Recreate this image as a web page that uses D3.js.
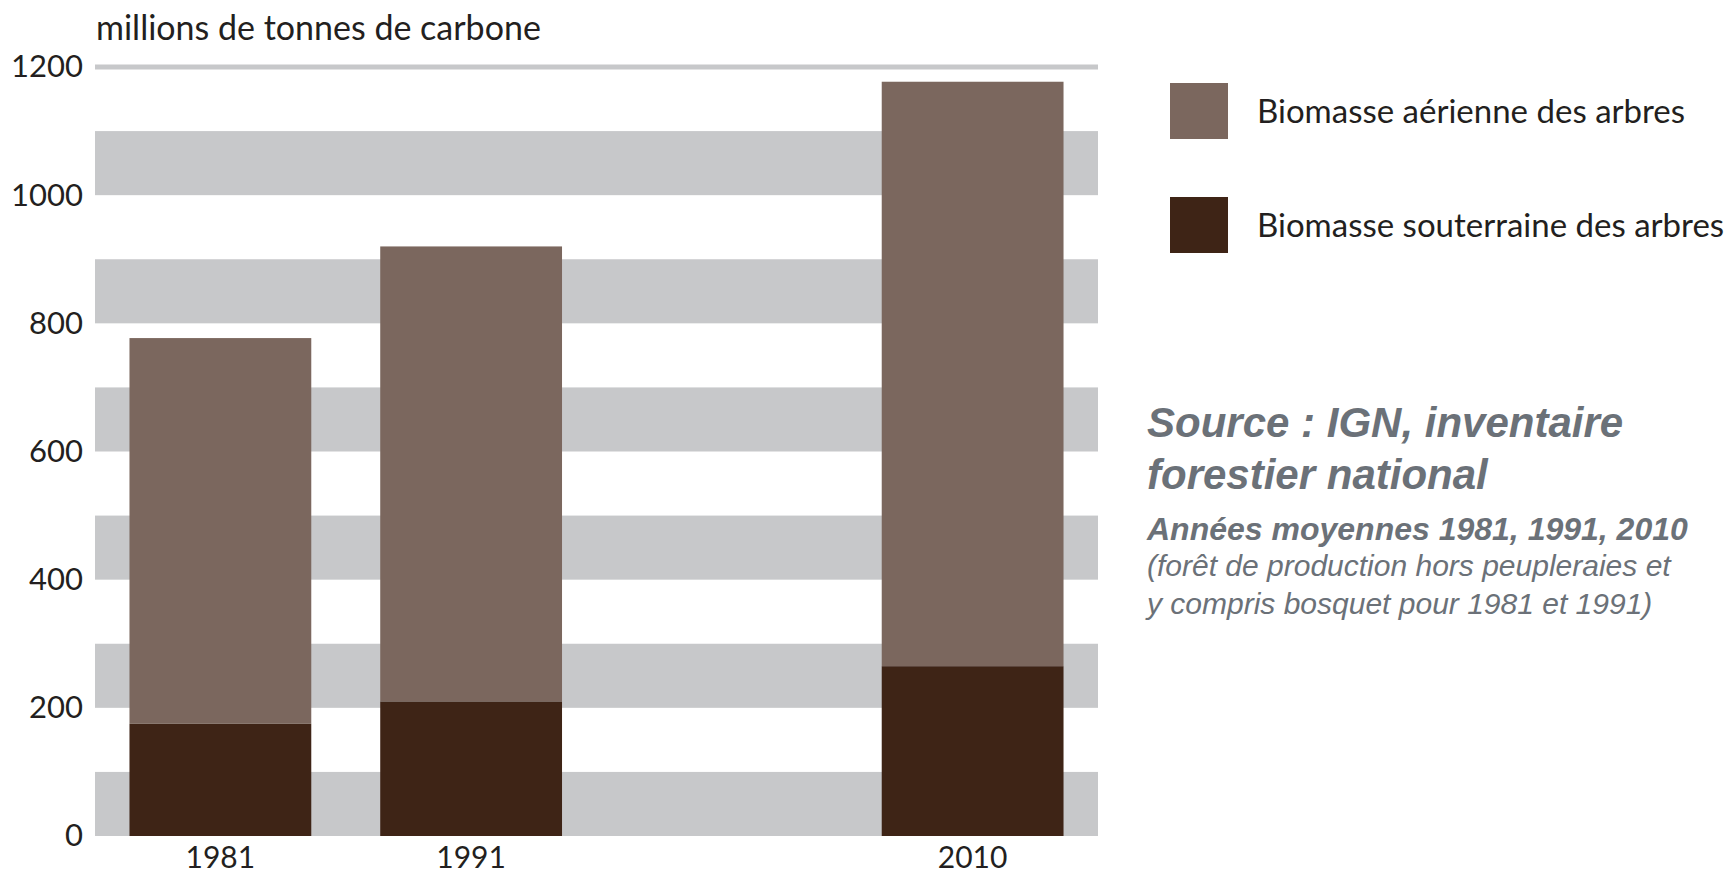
<!DOCTYPE html>
<html>
<head>
<meta charset="utf-8">
<script src="https://cdn.jsdelivr.net/npm/d3@7"></script>
<style>
	body { margin: 0; background: #fff; }
	svg { display: block; }
</style>
</head>
<body>
<script>
// data (millions de tonnes de carbone)
const years = ['1981', '1991', '2010'];
const slots = [0, 1, 3]; // 2010 sits one empty slot further right
const souterraine = [175, 210, 265];
const aerienne = [602, 710, 912];
const yTicks = [0, 200, 400, 600, 800, 1000, 1200];
const seriesNames = ['Biomasse aérienne des arbres', 'Biomasse souterraine des arbres'];
const sourceLines = [
	'Source : IGN, inventaire',
	'forestier national',
	'Années moyennes 1981, 1991, 2010',
	'(forêt de production hors peupleraies et',
	'y compris bosquet pour 1981 et 1991)'
];

document.addEventListener('DOMContentLoaded', () => {
	let width = 1731;
	let height = 875;
	let left = 95, right = 1098, top = 67, bottom = 836;

	let colAerienne = '#7b675e';
	let colSouterraine = '#3e2416';
	let colBand = '#c7c8ca';
	let colText = '#231f20';
	let labelFont = 'Lato, "Open Sans", sans-serif';

	let svg = d3.select('body').append('svg')
		.attr('width', width)
		.attr('height', height);

	let y = d3.scaleLinear().domain([0, 1200]).range([bottom, top]);
	let x = d3.scaleBand()
		.domain(d3.range(4))
		.range([left, right])
		.paddingInner(0.275)
		.paddingOuter(0.1375);

	// alternating grey bands
	svg.append('g').selectAll('rect')
		.data(d3.range(0, 1200, 200))
		.enter().append('rect')
		.attr('x', left)
		.attr('width', right - left)
		.attr('y', d => y(d + 100))
		.attr('height', d => y(d) - y(d + 100))
		.style('fill', colBand);

	svg.append('line')
		.attr('x1', left).attr('x2', right)
		.attr('y1', y(1200)).attr('y2', y(1200))
		.style('stroke', colBand)
		.style('stroke-width', 5);

	let rows = years.map((yr, i) => ({
		year: yr,
		slot: slots[i],
		sout: souterraine[i],
		aer: aerienne[i]
	}));

	let bars = svg.append('g');
	bars.selectAll('rect.sout')
		.data(rows)
		.enter().append('rect')
		.attr('class', 'sout')
		.attr('x', d => x(d.slot))
		.attr('width', x.bandwidth())
		.attr('y', d => y(d.sout))
		.attr('height', d => y(0) - y(d.sout))
		.style('fill', colSouterraine);
	bars.selectAll('rect.aer')
		.data(rows)
		.enter().append('rect')
		.attr('class', 'aer')
		.attr('x', d => x(d.slot))
		.attr('width', x.bandwidth())
		.attr('y', d => y(d.sout + d.aer))
		.attr('height', d => y(d.sout) - y(d.sout + d.aer))
		.style('fill', colAerienne);

	// y axis labels only
	let yAxis = svg.append('g')
		.attr('transform', `translate(${left - 12},0)`)
		.call(d3.axisLeft(y).tickValues(yTicks).tickFormat(d3.format('d')).tickSize(0).tickPadding(0));
	yAxis.select('.domain').remove();
	yAxis.selectAll('text')
		.style('font-family', labelFont)
		.style('font-size', '31px')
		.style('fill', colText);

	// x labels
	svg.append('g').selectAll('text')
		.data(rows)
		.enter().append('text')
		.attr('x', d => x(d.slot) + x.bandwidth() / 2)
		.attr('y', 868)
		.attr('text-anchor', 'middle')
		.style('font-family', labelFont)
		.style('font-size', '30px')
		.style('fill', colText)
		.text(d => d.year);

	svg.append('text')
		.attr('x', 96)
		.attr('y', 40)
		.style('font-family', labelFont)
		.style('font-size', '34px')
		.style('fill', colText)
		.text('millions de tonnes de carbone');

	// legend
	let legend = svg.append('g').selectAll('g')
		.data(seriesNames)
		.enter().append('g')
		.attr('transform', (d, i) => `translate(1170,${83 + i * 114})`);
	legend.append('rect')
		.attr('width', 58)
		.attr('height', 56)
		.style('fill', (d, i) => i === 0 ? colAerienne : colSouterraine);
	legend.append('text')
		.attr('x', 87)
		.attr('y', 40)
		.style('font-family', labelFont)
		.style('font-size', '33px')
		.style('fill', colText)
		.text(d => d);

	// source note
	let srcFont = '"Liberation Sans", Arial, sans-serif';
	let srcStyles = [
		{ y: 437, size: 42, weight: 'bold' },
		{ y: 489, size: 42, weight: 'bold' },
		{ y: 540, size: 32, weight: 'bold' },
		{ y: 576, size: 30, weight: 'normal' },
		{ y: 614, size: 30, weight: 'normal' }
	];
	svg.append('g').selectAll('text')
		.data(sourceLines)
		.enter().append('text')
		.attr('x', 1147)
		.attr('y', (d, i) => srcStyles[i].y)
		.style('font-family', srcFont)
		.style('font-style', 'italic')
		.style('font-weight', (d, i) => srcStyles[i].weight)
		.style('font-size', (d, i) => srcStyles[i].size + 'px')
		.style('fill', '#6b7178')
		.text(d => d);
});
</script>
</body>
</html>
